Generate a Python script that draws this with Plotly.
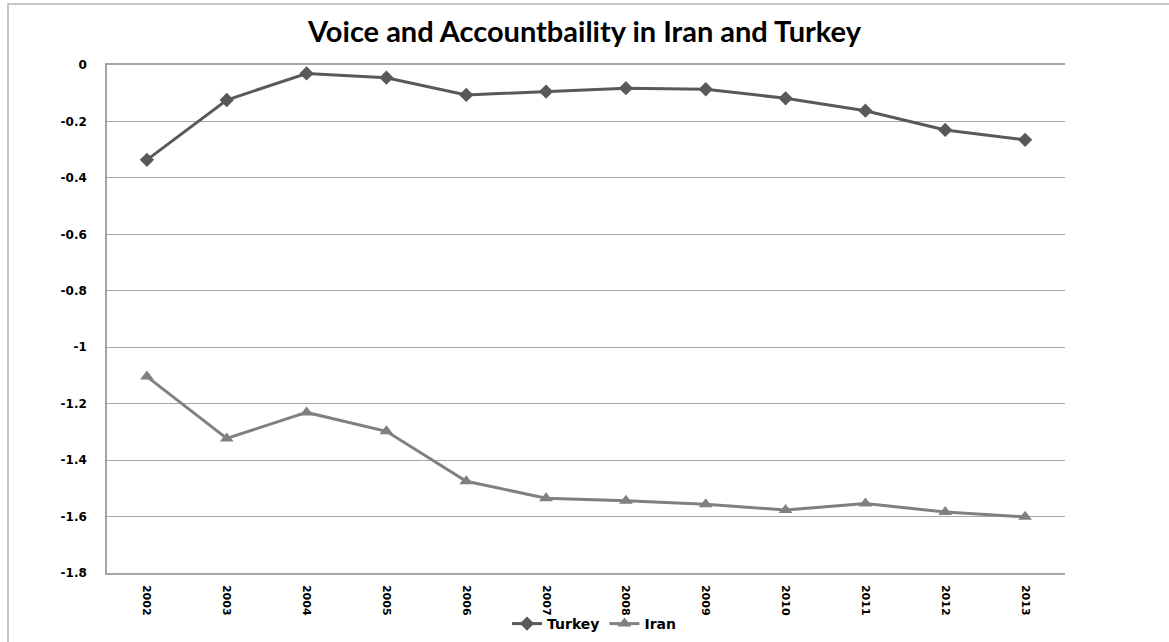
import plotly.graph_objects as go

# Voice and Accountability estimates, 2002-2013
years = ["2002", "2003", "2004", "2005", "2006", "2007",
         "2008", "2009", "2010", "2011", "2012", "2013"]
turkey = [-0.336, -0.124, -0.030, -0.045, -0.106, -0.094,
          -0.082, -0.086, -0.118, -0.162, -0.230, -0.265]
iran = [-1.104, -1.323, -1.231, -1.298, -1.475, -1.535,
        -1.544, -1.556, -1.577, -1.554, -1.584, -1.601]

y_ticks = [0, -0.2, -0.4, -0.6, -0.8, -1, -1.2, -1.4, -1.6, -1.8]
y_tick_labels = ["0", "-0.2", "-0.4", "-0.6", "-0.8", "-1",
                 "-1.2", "-1.4", "-1.6", "-1.8"]

W, H = 1169, 642
ML, MR, MT, MB = 107, 104, 65, 69
plot_w = W - ML - MR
plot_h = H - MT - MB

GRID = "#a6a6a6"
TICK_FONT = "DejaVu Sans"

fig = go.Figure()
fig.add_trace(go.Scatter(
    x=years, y=turkey, name="Turkey", mode="lines+markers",
    line=dict(color="#595959", width=3),
    marker=dict(symbol="diamond", size=11, color="#595959"),
))
fig.add_trace(go.Scatter(
    x=years, y=iran, name="Iran", mode="lines+markers",
    line=dict(color="#808080", width=3),
    marker=dict(symbol="triangle-up", size=12, color="#808080"),
))

# light chart-area frame (only top and left edges fall inside the page)
def px_x(p):
    return (p - ML) / plot_w

def px_y(p):
    return (H - MB - p) / plot_h

fig.add_shape(type="rect", xref="paper", yref="paper",
              x0=px_x(8), x1=px_x(W + 20), y0=px_y(H + 20), y1=px_y(4),
              line=dict(color="#b4b4b4", width=1.5), layer="below")

fig.update_layout(
    width=W, height=H,
    margin=dict(l=ML, r=MR, t=MT, b=MB, autoexpand=False),
    paper_bgcolor="white", plot_bgcolor="white",
    title=dict(text="<b>Voice and Accountbaility in Iran and Turkey</b>",
               x=0.5, xref="container", xanchor="center",
               y=1 - 32 / H, yref="container", yanchor="middle",
               font=dict(family="Lato", size=29, color="black")),
    showlegend=True,
    legend=dict(orientation="h", x=px_x(594), xanchor="center",
                y=px_y(624), yanchor="middle",
                font=dict(family=TICK_FONT, size=14, color="black", weight="bold"),
                itemwidth=30, tracegroupgap=0, bgcolor="rgba(0,0,0,0)"),
    xaxis=dict(type="category", showgrid=False, zeroline=False,
               showline=True, linecolor=GRID, linewidth=1.5, mirror=True,
               tickangle=90, ticks="", ticklabelstandoff=8, automargin=False,
               tickfont=dict(family=TICK_FONT, size=11, color="black", weight="bold"),
               range=[-0.5, len(years) - 0.5]),
    yaxis=dict(range=[-1.8, 0], tickvals=y_ticks, ticktext=y_tick_labels,
               showgrid=True, gridcolor=GRID, gridwidth=1, zeroline=False,
               showline=True, linecolor=GRID, linewidth=1.5,
               ticks="", ticklabelstandoff=16, automargin=False,
               tickfont=dict(family=TICK_FONT, size=12, color="black", weight="bold")),
)

fig.write_html("out.html")
